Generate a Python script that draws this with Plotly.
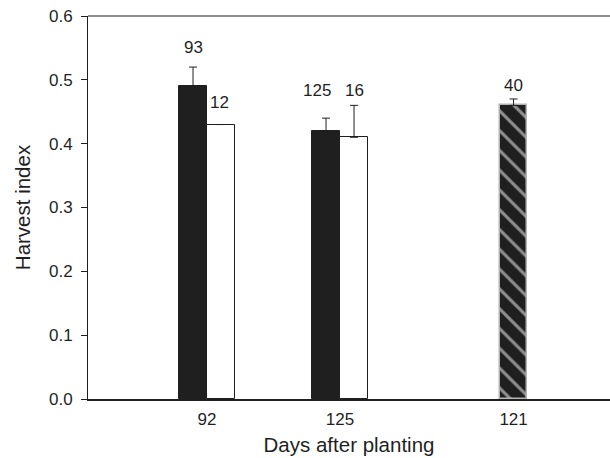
import plotly.graph_objects as go

# ---- data ----
days = ["92", "125", "121"]
black_vals = [0.49, 0.42]
black_err = [0.03, 0.02]
black_n = ["93", "125"]
white_vals = [0.43, 0.41]
white_err = [0.0, 0.05]
white_n = ["12", "16"]
hatch_vals = [0.46]
hatch_err = [0.01]
hatch_n = ["40"]

# ---- layout positions (axis units) ----
pos = [1.0, 2.0, 3.305]
w = 0.2105
FONT = "Liberation Sans, Arial, sans-serif"
INK = "#1f1f1f"

fig = go.Figure()
fig.add_trace(go.Bar(
    x=[p - w / 2 for p in pos[:2]], y=black_vals, width=w,
    marker=dict(color=INK, line=dict(color=INK, width=1)),
    error_y=dict(type="data", array=black_err, arrayminus=[0, 0], symmetric=False,
                 color=INK, thickness=1, width=4),
    showlegend=False))
fig.add_trace(go.Bar(
    x=[p + w / 2 for p in pos[:2]], y=white_vals, width=w,
    marker=dict(color="white", line=dict(color=INK, width=1)),
    error_y=dict(type="data", array=white_err, arrayminus=[0, 0], symmetric=False,
                 color=INK, thickness=1, width=4),
    showlegend=False))
fig.add_trace(go.Bar(
    x=[pos[2]], y=hatch_vals, width=0.203,
    marker=dict(color=INK, line=dict(color="#b4b4b4", width=1.5),
                pattern=dict(shape="\\", fgcolor="white", bgcolor=INK, size=14, solidity=0.22)),
    error_y=dict(type="data", array=hatch_err, arrayminus=[0], symmetric=False,
                 color=INK, thickness=1, width=4),
    showlegend=False))

# count labels
ann = []
lab_font = dict(family=FONT, size=17, color=INK)
shifts_black = [(0, 20), (-9, 28)]
shifts_white = [(-2, 22), (0, 15)]
for i in range(2):
    ann.append(dict(x=pos[i] - w / 2, y=black_vals[i] + black_err[i], text=black_n[i],
                    showarrow=False, xref="x", yref="y", font=lab_font,
                    xshift=shifts_black[i][0], yshift=shifts_black[i][1]))
    ann.append(dict(x=pos[i] + w / 2, y=white_vals[i] + white_err[i], text=white_n[i],
                    showarrow=False, xref="x", yref="y", font=lab_font,
                    xshift=shifts_white[i][0], yshift=shifts_white[i][1]))
ann.append(dict(x=pos[2], y=hatch_vals[0] + hatch_err[0], text=hatch_n[0],
                showarrow=False, xref="x", yref="y", font=lab_font, yshift=13))

fig.update_layout(
    width=610, height=458,
    margin=dict(l=88, r=0, t=16, b=59),
    plot_bgcolor="white", paper_bgcolor="white",
    barmode="overlay", bargap=0,
    font=dict(family=FONT, size=17, color=INK),
    annotations=ann,
    shapes=[dict(type="line", xref="paper", yref="paper", x0=0, x1=1, y0=1, y1=1,
                 line=dict(color=INK, width=1))],
    xaxis=dict(range=[0.105, 4.03], tickvals=pos, ticktext=days, ticks="",
               showline=True, linecolor=INK, linewidth=2, showgrid=False, zeroline=False,
               tickfont=dict(size=17), ticklabelstandoff=4,
               title=dict(text="Days after planting", font=dict(size=20.5), standoff=9)),
    yaxis=dict(range=[0, 0.6], dtick=0.1, tickformat=".1f", ticks="outside", ticklen=6,
               tickcolor=INK, showline=True, linecolor=INK, linewidth=1,
               showgrid=False, zeroline=False, tickfont=dict(size=17), ticklabelstandoff=5,
               title=dict(text="Harvest index", font=dict(size=20.5), standoff=12)),
)

fig.write_html("out.html")
